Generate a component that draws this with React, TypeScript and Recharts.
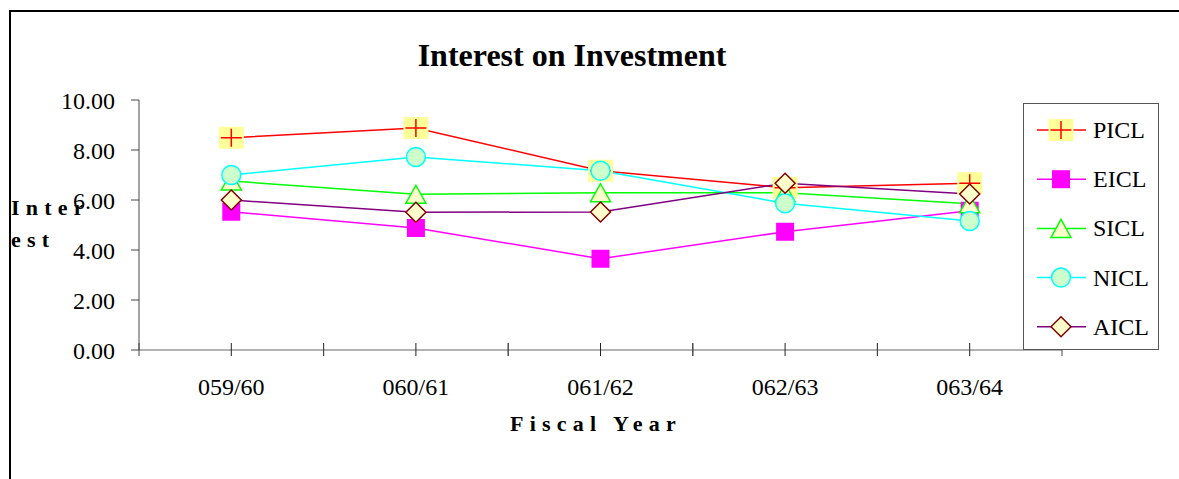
import React from 'react';
import { LineChart, Line, XAxis, YAxis, Legend, Customized } from 'recharts';

const categories = ['059/60', '060/61', '061/62', '062/63', '063/64'];
const picl = [8.49, 8.88, 7.17, 6.49, 6.67];
const eicl = [5.53, 4.88, 3.65, 4.73, 5.57];
const sicl = [6.76, 6.23, 6.29, 6.29, 5.85];
const nicl = [7.0, 7.72, 7.17, 5.87, 5.16];
const aicl = [6.0, 5.51, 5.52, 6.67, 6.24];
const yTicks = [0, 2, 4, 6, 8, 10];
const seriesNames = ['PICL', 'EICL', 'SICL', 'NICL', 'AICL'];
const lineColors: Record<string, string> = {
  PICL: '#FF0000',
  EICL: '#FF00FF',
  SICL: '#00FF00',
  NICL: '#00FFFF',
  AICL: '#800080',
};

const data = categories.map((c, i) => ({
  cat: c,
  PICL: picl[i],
  EICL: eicl[i],
  SICL: sicl[i],
  NICL: nicl[i],
  AICL: aicl[i],
}));

const FONT = "'Times New Roman', 'Liberation Serif', serif";

function Marker({ kind, cx, cy }: { kind: string; cx: number; cy: number }) {
  switch (kind) {
    case 'PICL':
      return (
        <g>
          <rect x={cx - 12.5} y={cy - 11} width={25} height={22} fill="#FFFF99" />
          <line x1={cx - 10.5} x2={cx + 10.5} y1={cy} y2={cy} stroke="#FF0000" strokeWidth={1.5} />
          <line x1={cx} x2={cx} y1={cy - 9} y2={cy + 9} stroke="#FF0000" strokeWidth={1.5} />
        </g>
      );
    case 'EICL':
      return <rect x={cx - 9} y={cy - 9} width={18} height={18} fill="#FF00FF" />;
    case 'SICL':
      return (
        <polygon
          points={`${cx},${cy - 9} ${cx + 10},${cy + 9} ${cx - 10},${cy + 9}`}
          fill="#FFFFCC"
          stroke="#00FF00"
          strokeWidth={1.5}
        />
      );
    case 'NICL':
      return <circle cx={cx} cy={cy} r={9.5} fill="#CCFFCC" stroke="#00FFFF" strokeWidth={1.5} />;
    case 'AICL':
      return (
        <polygon
          points={`${cx},${cy - 10} ${cx + 10},${cy} ${cx},${cy + 10} ${cx - 10},${cy}`}
          fill="#FFFFCC"
          stroke="#800000"
          strokeWidth={1.5}
        />
      );
    default:
      return null;
  }
}

const XTick = (props: any) => {
  const { x, y, payload } = props;
  const half = payload && typeof payload.offset === 'number' ? payload.offset : 0;
  return (
    <g>
      <line x1={x} x2={x} y1={y - 7} y2={y + 6} stroke="#222" strokeWidth={1} />
      {half > 0 && (
        <>
          <line x1={x - half} x2={x - half} y1={y - 7} y2={y + 6} stroke="#444" strokeWidth={1} />
          <line x1={x + half} x2={x + half} y1={y - 7} y2={y + 6} stroke="#444" strokeWidth={1} />
        </>
      )}
      <text x={x} y={y + 45} textAnchor="middle" fontFamily={FONT} fontSize={24} fill="#000">
        {payload.value}
      </text>
    </g>
  );
};

const renderLegend = () => (
  <div
    style={{
      width: 136,
      height: 247,
      border: '1px solid #555',
      background: '#fff',
      boxSizing: 'border-box',
    }}
  >
    <svg width={134} height={245} style={{ display: 'block' }}>
      {seriesNames.map((name, i) => {
        const cy = 26 + i * 49.2;
        return (
          <g key={name}>
            <line x1={13} x2={62} y1={cy} y2={cy} stroke={lineColors[name]} strokeWidth={1.5} />
            <Marker kind={name} cx={37} cy={cy} />
            <text x={69} y={cy + 8} fontFamily={FONT} fontSize={24} fill="#000">
              {name}
            </text>
          </g>
        );
      })}
    </svg>
  </div>
);

const Texts = () => (
  <g>
    <text x={572} y={66} textAnchor="middle" fontFamily={FONT} fontSize={32} fontWeight="bold" fill="#000">
      Interest on Investment
    </text>
    <text x={11} y={215} fontFamily={FONT} fontSize={22} fontWeight="bold" letterSpacing={6.2} fill="#000">
      Inter
    </text>
    <text x={11} y={247} fontFamily={FONT} fontSize={22} fontWeight="bold" letterSpacing={6.2} fill="#000">
      est
    </text>
    <text x={510} y={431} fontFamily={FONT} fontSize={22} fontWeight="bold" letterSpacing={6.2} fill="#000">
      Fiscal Year
    </text>
  </g>
);

export default function App() {
  return (
    <div style={{ position: 'absolute', left: 0, top: 0, width: 1179, height: 479, background: '#fff' }}>
      <div
        style={{
          position: 'absolute',
          left: 9,
          top: 10,
          width: 1170,
          height: 469,
          borderTop: '2px solid #000',
          borderLeft: '2px solid #000',
          boxSizing: 'border-box',
        }}
      />
      <div style={{ position: 'absolute', left: 0, top: 0 }}>
        <LineChart
          width={1179}
          height={479}
          data={data}
          margin={{ top: 100, right: 117, bottom: 99, left: 79 }}
        >
          <XAxis
            dataKey="cat"
            scale="band"
            height={30}
            tickSize={0}
            tickMargin={0}
            tickLine={false}
            axisLine={{ stroke: '#666', strokeWidth: 1.2 }}
            tick={<XTick />}
            interval={0}
          />
          <YAxis
            width={60}
            domain={[0, 10]}
            ticks={yTicks}
            tickFormatter={(v: number) => v.toFixed(2)}
            tickSize={8}
            tickMargin={16}
            axisLine={{ stroke: '#666', strokeWidth: 1.2 }}
            tickLine={{ stroke: '#444' }}
            tick={{ fontFamily: FONT, fontSize: 24, fill: '#000' }}
            interval={0}
          />
          {seriesNames.map((name) => (
            <Line
              key={name}
              dataKey={name}
              type="linear"
              stroke={lineColors[name]}
              strokeWidth={1.5}
              isAnimationActive={false}
              activeDot={false}
              dot={(p: any) => <Marker key={`${name}-${p.index}`} kind={name} cx={p.cx} cy={p.cy} />}
            />
          ))}
          <Legend
            layout="horizontal"
            align="center"
            verticalAlign="middle"
            content={renderLegend}
            wrapperStyle={{ left: 1023, top: 103, width: 136, height: 247 }}
          />
          <Customized component={Texts} />
        </LineChart>
      </div>
    </div>
  );
}
